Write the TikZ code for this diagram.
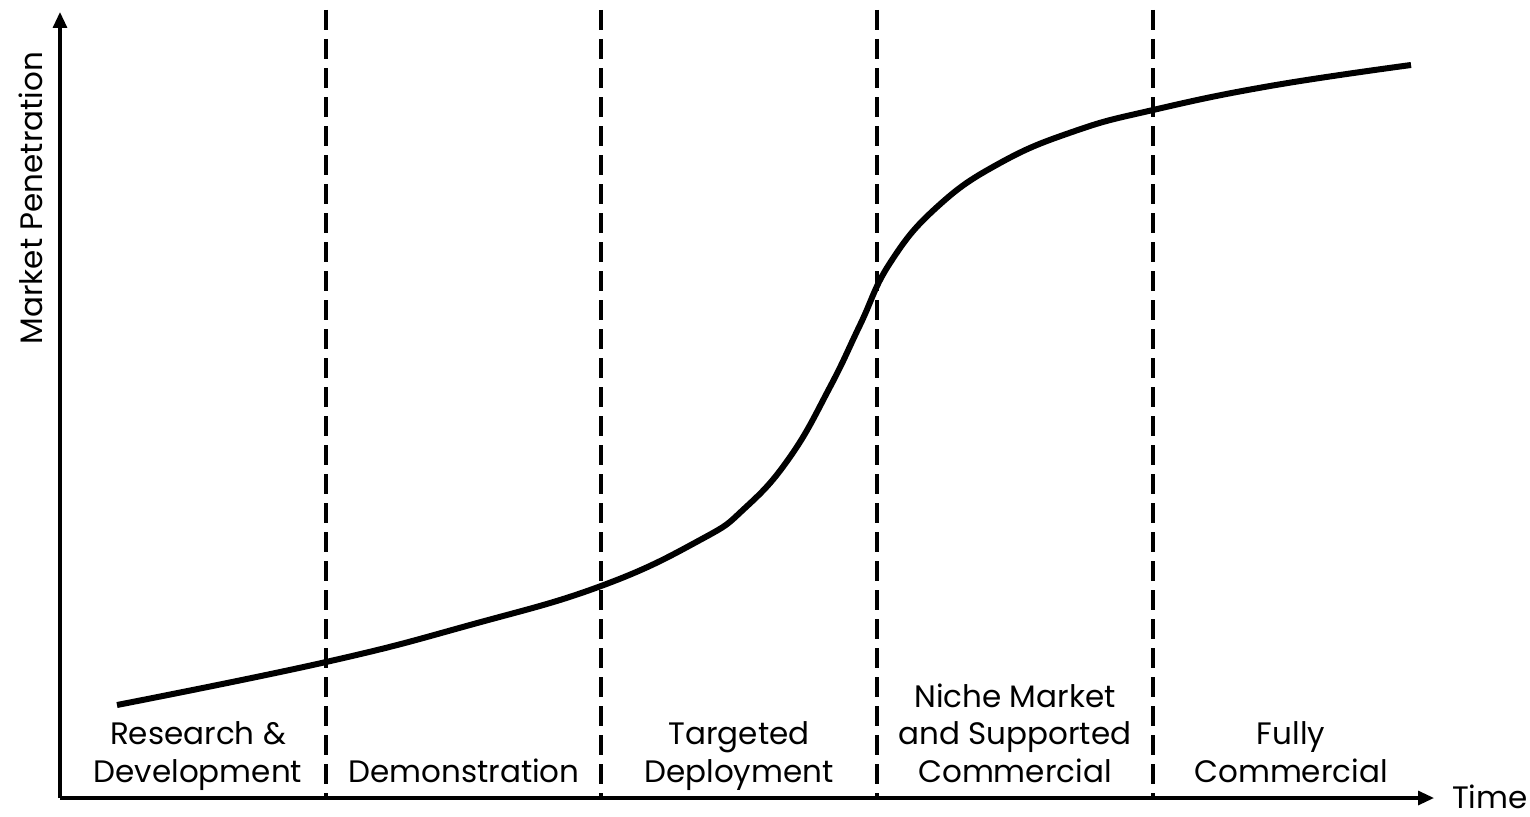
\documentclass[tikz,border=0pt]{standalone}
\usepackage{fontspec}
\setmainfont{Poppins}
\usetikzlibrary{arrows.meta}
\begin{document}
\begin{tikzpicture}[x=1pt,y=-1pt,
  axis/.style={line width=3.2pt,-{Triangle[length=16pt,width=14pt]}},
  divider/.style={line width=3.2pt,dash pattern=on 20pt off 9pt},
  curveline/.style={line width=6pt},
  phase/.style={align=center,inner sep=0pt,anchor=base,font=\fontsize{31}{37.5}\selectfont},
  axlabel/.style={inner sep=0pt,font=\fontsize{31}{37.5}\selectfont}]
\useasboundingbox (0,0) rectangle (1530,816);
\coordinate (O) at (60,798);
\coordinate (ytip) at (60,12);
\coordinate (xtip) at (1434,798);
\foreach \x/\n in {326/a,601/b,877/c,1153/d}{
  \coordinate (t\n) at (\x,10);
  \coordinate (b\n) at (\x,798);
  \draw[divider] (t\n) -- (b\n);
}
\draw[axis] (O) -- (ytip);
\draw[axis] (O) -- (xtip);
\draw[curveline] plot[smooth,tension=0.75] coordinates {
  (117,705) (326,662) (470,625) (601,586) (700,540) (745,508) (790,457)
  (830,387) (860,325) (890,263) (937,207) (1000,163) (1075,131) (1153,110)
  (1270,86) (1411,65)};
\node[phase] (rd) at (198,782) {Research \&\\Development};
\node[phase] (demo) at (464,782) {Demonstration};
\node[phase] (td) at (739,782) {Targeted\\Deployment};
\node[phase] (nm) at (1015,782) {Niche Market\\and Supported\\Commercial};
\node[phase] (fc) at (1291,782) {Fully\\Commercial};
\node[axlabel,anchor=base west] (time) at (1452,808) {Time};
\node[axlabel,rotate=90,anchor=base] (mp) at (42,198) {Market Penetration};
\end{tikzpicture}
\end{document}
